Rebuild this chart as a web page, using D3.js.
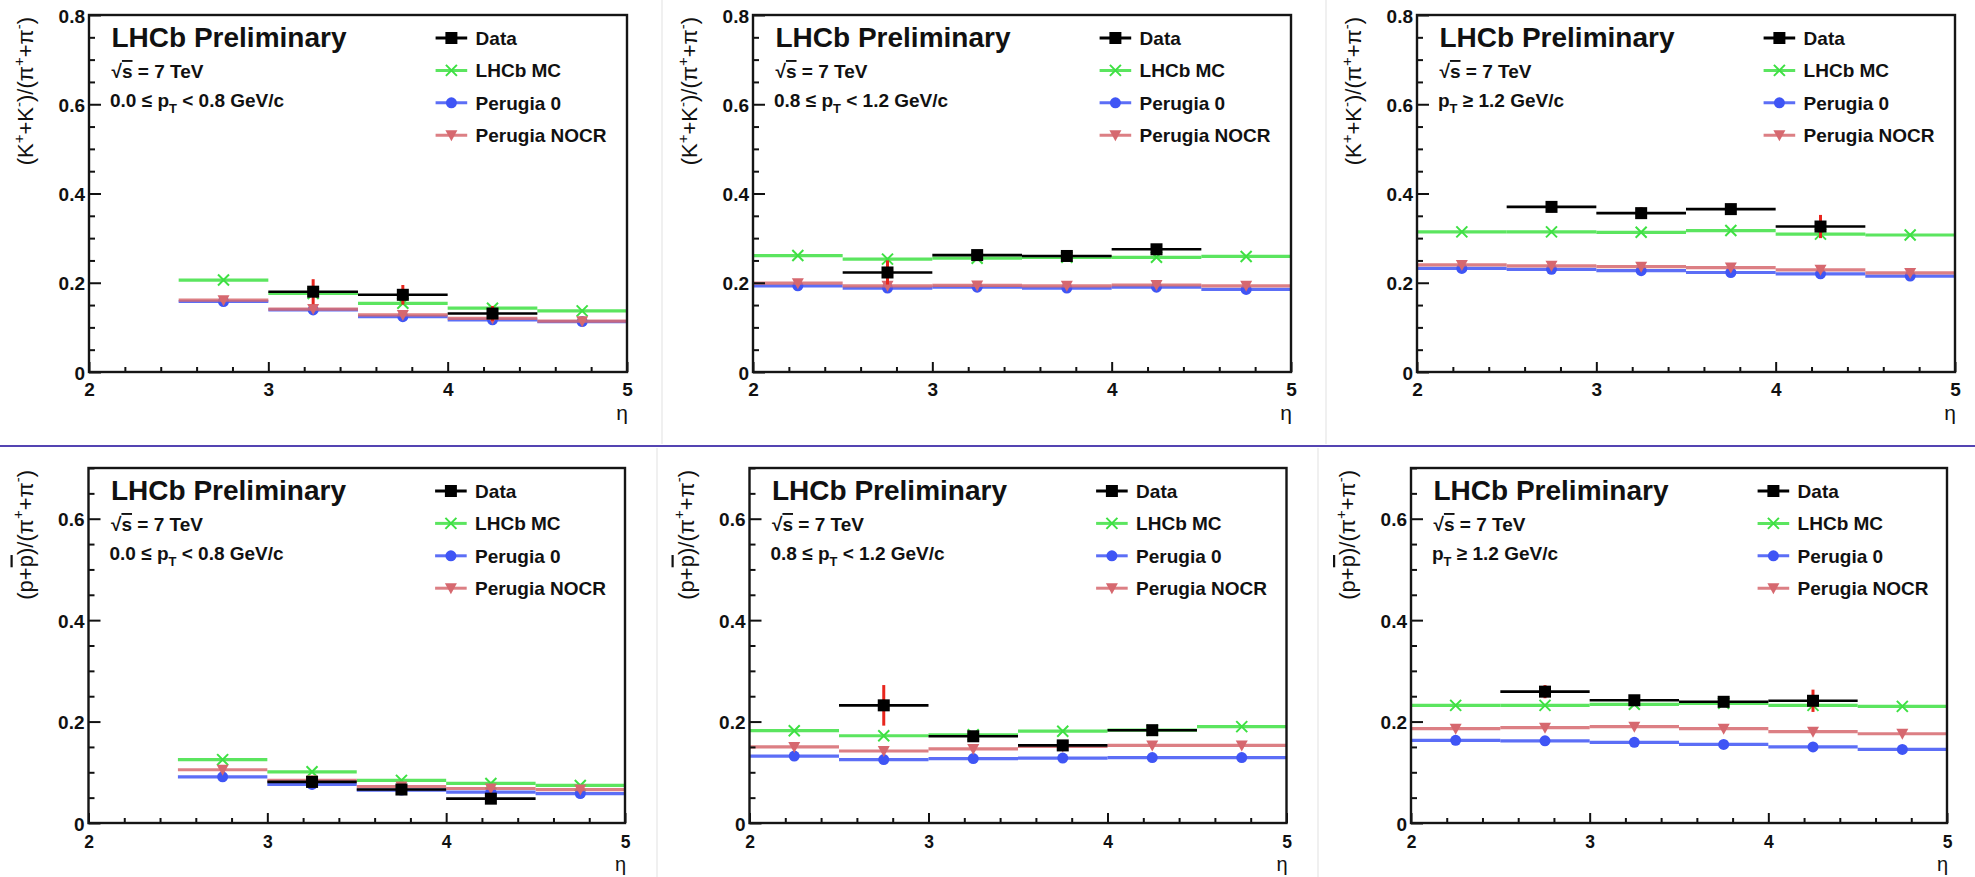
<!DOCTYPE html>
<html><head><meta charset="utf-8">
<script src="https://cdn.jsdelivr.net/npm/d3@7"></script>
<style>
body{margin:0;background:#fff}
svg{display:block}
text{font-family:"Liberation Sans",Arial,Helvetica,sans-serif}
</style>
</head><body>
<svg id="c" width="1975" height="877"></svg>
<script>
// ---------- data ----------
const etaEdges = [2, 2.5, 3, 3.5, 4, 4.5, 5];
const xTicks = [2, 3, 4, 5];
const xTickLabels = ["2", "3", "4", "5"];
const seriesNames = ["Data", "LHCb MC", "Perugia 0", "Perugia NOCR"];
const yTicksK = [0, 0.2, 0.4, 0.6, 0.8];
const yTickLabelsK = ["0", "0.2", "0.4", "0.6", "0.8"];
const yTicksP = [0, 0.2, 0.4, 0.6];
const yTickLabelsP = ["0", "0.2", "0.4", "0.6"];

// Kaon ratio, 0.0 <= pT < 0.8
const kLowData = [null, null, 0.180, 0.173, 0.131, null];
const kLowErr  = [null, null, 0.028, 0.022, 0.017, null];
const kLowMC   = [null, 0.206, 0.176, 0.154, 0.143, 0.137];
const kLowP0   = [null, 0.158, 0.139, 0.124, 0.117, 0.113];
const kLowNOCR = [null, 0.161, 0.141, 0.128, 0.120, 0.114];
// Kaon ratio, 0.8 <= pT < 1.2
const kMidData = [null, 0.223, 0.262, 0.260, 0.275, null];
const kMidErr  = [null, 0.027, 0.010, 0.009, 0.010, null];
const kMidMC   = [0.261, 0.253, 0.255, 0.257, 0.257, 0.259];
const kMidP0   = [0.193, 0.188, 0.190, 0.188, 0.190, 0.185];
const kMidNOCR = [0.199, 0.193, 0.194, 0.193, 0.195, 0.193];
// Kaon ratio, pT >= 1.2
const kHighData = [null, 0.370, 0.356, 0.365, 0.326, null];
const kHighErr  = [null, 0.012, 0.013, 0.012, 0.026, null];
const kHighMC   = [0.314, 0.314, 0.313, 0.317, 0.309, 0.307];
const kHighP0   = [0.232, 0.230, 0.227, 0.223, 0.220, 0.215];
const kHighNOCR = [0.240, 0.238, 0.236, 0.234, 0.229, 0.222];
// Proton ratio, 0.0 <= pT < 0.8
const pLowData = [null, null, 0.081, 0.066, 0.048, null];
const pLowErr  = [null, null, 0.012, 0.007, 0.007, null];
const pLowMC   = [null, 0.125, 0.101, 0.084, 0.078, 0.074];
const pLowP0   = [null, 0.091, 0.076, 0.065, 0.061, 0.058];
const pLowNOCR = [null, 0.105, 0.084, 0.072, 0.068, 0.066];
// Proton ratio, 0.8 <= pT < 1.2
const pMidData = [null, 0.232, 0.171, 0.153, 0.183, null];
const pMidErr  = [null, 0.040, 0.010, 0.008, 0.008, null];
const pMidMC   = [0.182, 0.172, 0.174, 0.181, 0.183, 0.190];
const pMidP0   = [0.132, 0.125, 0.127, 0.128, 0.129, 0.129];
const pMidNOCR = [0.150, 0.142, 0.146, 0.151, 0.153, 0.153];
// Proton ratio, pT >= 1.2
const pHighData = [null, 0.259, 0.242, 0.239, 0.241, null];
const pHighErr  = [null, 0.013, 0.006, 0.006, 0.022, null];
const pHighMC   = [0.232, 0.232, 0.234, 0.236, 0.232, 0.230];
const pHighP0   = [0.163, 0.162, 0.159, 0.155, 0.150, 0.145];
const pHighNOCR = [0.186, 0.188, 0.190, 0.186, 0.180, 0.176];

// ---------- texts ----------
const kTitle = [["(K"], ["+", "sup"], ["+K"], ["-", "sup"], [")/(π"], ["+", "sup"], ["+π"], ["-", "sup"], [")"]];
const pTitle = [["(p+"], ["p", "bar"], [")/(π"], ["+", "sup"], ["+π"], ["-", "sup"], [")"]];
const ptLow  = [["0.0 ≤ p"], ["T", "sub"], [" < 0.8 GeV/c"]];
const ptMid  = [["0.8 ≤ p"], ["T", "sub"], [" < 1.2 GeV/c"]];
const ptHigh = [["p"], ["T", "sub"], [" ≥ 1.2 GeV/c"]];

const panels = [
  {ymax: 0.8, yt: yTicksK, yl: yTickLabelsK, title: kTitle, pt: ptLow,  data: kLowData,  err: kLowErr,  mc: kLowMC,  p0: kLowP0,  nocr: kLowNOCR},
  {ymax: 0.8, yt: yTicksK, yl: yTickLabelsK, title: kTitle, pt: ptMid,  data: kMidData,  err: kMidErr,  mc: kMidMC,  p0: kMidP0,  nocr: kMidNOCR},
  {ymax: 0.8, yt: yTicksK, yl: yTickLabelsK, title: kTitle, pt: ptHigh, data: kHighData, err: kHighErr, mc: kHighMC, p0: kHighP0, nocr: kHighNOCR},
  {ymax: 0.7, yt: yTicksP, yl: yTickLabelsP, title: pTitle, pt: ptLow,  data: pLowData,  err: pLowErr,  mc: pLowMC,  p0: pLowP0,  nocr: pLowNOCR},
  {ymax: 0.7, yt: yTicksP, yl: yTickLabelsP, title: pTitle, pt: ptMid,  data: pMidData,  err: pMidErr,  mc: pMidMC,  p0: pMidP0,  nocr: pMidNOCR},
  {ymax: 0.7, yt: yTicksP, yl: yTickLabelsP, title: pTitle, pt: ptHigh, data: pHighData, err: pHighErr, mc: pHighMC, p0: pHighP0, nocr: pHighNOCR}
];

// ---------- layout ----------
const layout = [
  {left: 89,    right: 627,    top: 15,  bottom: 372, xpad: 11, xfs: 19, etaDy: 48, etaFs: 21},
  {left: 753,   right: 1291,   top: 15,  bottom: 372, xpad: 11, xfs: 19, etaDy: 48, etaFs: 21},
  {left: 1417,  right: 1955,   top: 15,  bottom: 372, xpad: 11, xfs: 19, etaDy: 48, etaFs: 21},
  {left: 88.5,  right: 625,    top: 468, bottom: 823, xpad: 13, xfs: 17.5, etaDy: 48, etaFs: 20},
  {left: 749.5, right: 1286.5, top: 468, bottom: 823, xpad: 13, xfs: 17.5, etaDy: 48, etaFs: 20},
  {left: 1411,  right: 1947,   top: 468, bottom: 823, xpad: 13, xfs: 17.5, etaDy: 48, etaFs: 20}
];

const COL = {data: "#000", err: "#e8261e", mc: "#3ee043", p0: "#3f55f5", nocr: "#d6686f"};
const FONT = '"Liberation Sans",Arial,Helvetica,sans-serif';

const svg = d3.select("#c");
svg.append("rect").attr("width", 1975).attr("height", 877).attr("fill", "#fff");

// separators
[662, 1326].forEach(xx => svg.append("line").attr("x1", xx).attr("x2", xx).attr("y1", 0).attr("y2", 444)
  .attr("stroke", "#ebebeb").attr("stroke-width", 1.5));
[657, 1318].forEach(xx => svg.append("line").attr("x1", xx).attr("x2", xx).attr("y1", 448).attr("y2", 877)
  .attr("stroke", "#ebebeb").attr("stroke-width", 1.5));
svg.append("line").attr("x1", 0).attr("x2", 1975).attr("y1", 446).attr("y2", 446)
  .attr("stroke", "#5444b2").attr("stroke-width", 2.2);

function marker(g, type, cx, cy) {
  if (type === "square") {
    g.append("rect").attr("x", cx - 6).attr("y", cy - 6).attr("width", 12).attr("height", 12).attr("fill", COL.data);
  } else if (type === "x") {
    const s = 5.5;
    g.append("path").attr("d", `M${cx - s},${cy - s}L${cx + s},${cy + s}M${cx - s},${cy + s}L${cx + s},${cy - s}`)
      .attr("stroke", COL.mc).attr("stroke-width", 2).attr("fill", "none");
  } else if (type === "circle") {
    g.append("circle").attr("cx", cx).attr("cy", cy).attr("r", 5.5).attr("fill", COL.p0);
  } else if (type === "tri") {
    g.append("path").attr("d", `M${cx - 6},${cy - 5}L${cx + 6},${cy - 5}L${cx},${cy + 6}Z`).attr("fill", COL.nocr);
  }
}

function richText(sel, parts, size) {
  let shift = 0;
  parts.forEach(([t, kind]) => {
    const ts = sel.append("tspan").text(t);
    if (kind === "sup") {
      ts.attr("font-size", size * 0.68).attr("dy", -size * 0.42 - shift); shift = -size * 0.42;
    } else if (kind === "sub") {
      ts.attr("font-size", size * 0.68).attr("dy", size * 0.32 - shift); shift = size * 0.32;
    } else {
      if (shift !== 0) { ts.attr("dy", -shift); shift = 0; }
      if (kind === "bar") ts.style("text-decoration", "overline");
    }
  });
}

panels.forEach((p, i) => {
  const L = layout[i];
  const x = d3.scaleLinear().domain([2, 5]).range([L.left, L.right]);
  const y = d3.scaleLinear().domain([0, p.ymax]).range([L.bottom, L.top]);
  const g = svg.append("g");
  const bins = d3.range(etaEdges.length - 1);
  const mid = b => (etaEdges[b] + etaEdges[b + 1]) / 2;

  // MC series: horizontal bin segments + markers
  [[p.mc, COL.mc, "x"], [p.p0, COL.p0, "circle"], [p.nocr, COL.nocr, "tri"]].forEach(([vals, col, mk]) => {
    const sg = g.append("g");
    bins.forEach(b => {
      if (vals[b] == null) return;
      sg.append("line").attr("x1", x(etaEdges[b])).attr("x2", x(etaEdges[b + 1]))
        .attr("y1", y(vals[b])).attr("y2", y(vals[b]))
        .attr("stroke", col).attr("stroke-width", 3.2).attr("stroke-opacity", 0.85);
    });
    bins.forEach(b => { if (vals[b] != null) marker(sg, mk, x(mid(b)), y(vals[b])); });
  });

  // Data
  const dg = g.append("g");
  bins.forEach(b => {
    const v = p.data[b]; if (v == null) return;
    dg.append("line").attr("x1", x(etaEdges[b])).attr("x2", x(etaEdges[b + 1]))
      .attr("y1", y(v)).attr("y2", y(v)).attr("stroke", COL.data).attr("stroke-width", 2.6);
    dg.append("line").attr("x1", x(mid(b))).attr("x2", x(mid(b)))
      .attr("y1", y(v - p.err[b])).attr("y2", y(v + p.err[b])).attr("stroke", COL.err).attr("stroke-width", 3);
    marker(dg, "square", x(mid(b)), y(v));
  });

  // axes
  const yMinor = d3.range(0, Math.round(p.ymax / 0.05) + 1).map(k => k * 0.05)
    .filter(v => Math.abs(v / 0.2 - Math.round(v / 0.2)) > 1e-6);
  const yAx = g.append("g").attr("transform", `translate(${L.left},0)`)
    .call(d3.axisLeft(y).tickValues(p.yt).tickSize(-12).tickPadding(4).tickFormat((d, k) => p.yl[k]));
  const yAxm = g.append("g").attr("transform", `translate(${L.left},0)`)
    .call(d3.axisLeft(y).tickValues(yMinor).tickSize(-6).tickFormat(""));
  const xMinor = d3.range(0, 16).map(k => 2 + k * 0.2).filter(v => Math.abs(v - Math.round(v)) > 1e-6);
  const xAx = g.append("g").attr("transform", `translate(0,${L.bottom})`)
    .call(d3.axisBottom(x).tickValues(xTicks).tickSize(-10).tickPadding(L.xpad).tickFormat((d, k) => xTickLabels[k]));
  const xAxm = g.append("g").attr("transform", `translate(0,${L.bottom})`)
    .call(d3.axisBottom(x).tickValues(xMinor).tickSize(-5).tickFormat(""));
  [yAx, yAxm, xAx, xAxm].forEach(a => {
    a.select(".domain").remove();
    a.selectAll("line").attr("stroke", "#111").attr("stroke-width", 2);
    a.selectAll("text").attr("font-family", FONT).attr("font-size", 19).attr("font-weight", "bold").attr("fill", "#111");
  });
  xAx.selectAll("text").attr("font-size", L.xfs);
  yAx.selectAll("text").attr("dy", "0.38em");

  // frame
  g.append("rect").attr("x", L.left).attr("y", L.top).attr("width", L.right - L.left).attr("height", L.bottom - L.top)
    .attr("fill", "none").attr("stroke", "#151515").attr("stroke-width", 2.4);

  // axis titles
  g.append("text").attr("x", L.right + 1).attr("y", L.bottom + L.etaDy).attr("text-anchor", "end")
    .attr("font-size", L.etaFs).attr("fill", "#111").text("η");
  const yt = g.append("text").attr("transform", `translate(${L.left - 56},${L.top + 2}) rotate(-90)`)
    .attr("text-anchor", "end").attr("font-size", 22).attr("fill", "#111");
  richText(yt, p.title, 22);

  // labels
  g.append("text").attr("x", L.left + 22.5).attr("y", L.top + 32).attr("font-size", 28).attr("font-weight", "bold")
    .attr("fill", "#111").text("LHCb Preliminary");
  const sq = g.append("text").attr("x", L.left + 22.5).attr("y", L.top + 63).attr("font-size", 19).attr("font-weight", "bold").attr("fill", "#111");
  richText(sq, [["√"], ["s", "bar"], [" = 7 TeV"]], 19);
  const ptt = g.append("text").attr("x", L.left + 21).attr("y", L.top + 92).attr("font-size", 19).attr("font-weight", "bold").attr("fill", "#111");
  richText(ptt, p.pt, 19);

  // legend
  const legCols = [COL.data, COL.mc, COL.p0, COL.nocr];
  const legMk = ["square", "x", "circle", "tri"];
  seriesNames.forEach((nm, k) => {
    const ly = L.top + 23 + k * 32.4;
    const lg = g.append("g");
    lg.append("line").attr("x1", L.left + 346.6).attr("x2", L.left + 378.2).attr("y1", ly).attr("y2", ly)
      .attr("stroke", legCols[k]).attr("stroke-width", 3).attr("stroke-opacity", k === 0 ? 1 : 0.85);
    marker(lg, legMk[k], L.left + 362.4, ly);
    lg.append("text").attr("x", L.left + 386.6).attr("y", ly + 7).attr("font-size", 19).attr("font-weight", "bold")
      .attr("fill", "#111").text(nm);
  });
});
</script>
</body></html>
